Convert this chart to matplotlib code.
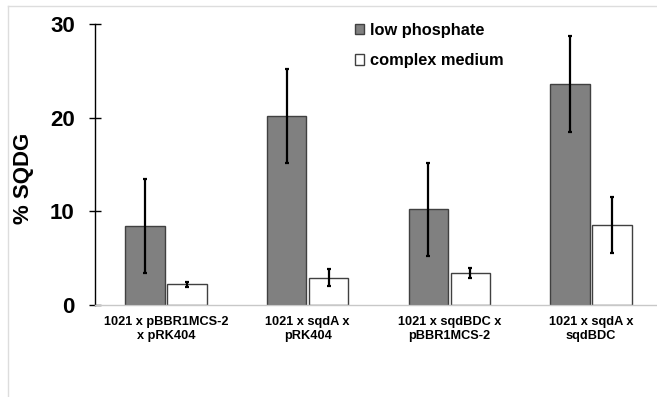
import matplotlib
matplotlib.use("Agg")
import matplotlib.pyplot as plt
import numpy as np
from matplotlib.lines import Line2D

categories = ["1021 x pBBR1MCS-2\nx pRK404", "1021 x sqdA x\npRK404",
              "1021 x sqdBDC x\npBBR1MCS-2", "1021 x sqdA x\nsqdBDC"]
low_phosphate = [8.4, 20.2, 10.2, 23.6]
low_phosphate_err = [5.0, 5.0, 5.0, 5.1]
complex_medium = [2.2, 2.9, 3.4, 8.5]
complex_medium_err = [0.25, 0.9, 0.5, 3.0]
series_names = ["low phosphate", "complex medium"]
yticks = [0, 10, 20, 30]

plt.rcParams['font.family'] = ['Liberation Sans', 'DejaVu Sans']
plt.rcParams['font.weight'] = 'bold'

fig = plt.figure(figsize=(6.57, 3.97), dpi=100)
ax = fig.add_axes([95/657, (397-305)/397, 567/657, (305-24)/397])

x = np.arange(len(categories))
w = 0.28
off = 0.148
ax.bar(x - off, low_phosphate, w, color="#808080", edgecolor="#404040", linewidth=1.0,
       label=series_names[0], zorder=2)
ax.bar(x + off, complex_medium, w, color="white", edgecolor="#404040", linewidth=1.0,
       label=series_names[1], zorder=2)
ax.errorbar(x - off, low_phosphate, yerr=low_phosphate_err, fmt="none", ecolor="black",
            elinewidth=1.6, capsize=1.5, capthick=1.6, zorder=3)
ax.errorbar(x + off, complex_medium, yerr=complex_medium_err, fmt="none", ecolor="black",
            elinewidth=1.6, capsize=1.5, capthick=1.6, zorder=3)

ax.set_xlim(-0.5, 3.5)
ax.set_ylim(0, 30)
ax.set_yticks(yticks)
ax.set_yticklabels([str(t) for t in yticks], fontsize=16, fontweight='bold')
ax.tick_params(axis='y', direction='inout', length=9, width=1.0, pad=10)
ax.set_xticks(x)
ax.set_xticklabels(categories, fontsize=9.2, fontweight='bold', linespacing=1.2)
ax.tick_params(axis='x', length=0, pad=8)
ax.set_ylabel("% SQDG", fontsize=16, fontweight='bold')
ax.yaxis.set_label_coords(-0.108, 0.452)

for s in ["top", "right"]:
    ax.spines[s].set_visible(False)
ax.spines["left"].set_color("black")
ax.spines["left"].set_linewidth(1.0)
ax.spines["bottom"].set_color("#c8c8c8")
ax.spines["bottom"].set_linewidth(1.0)

leg = fig.legend(loc="upper left", bbox_to_anchor=(348/657, 1 - 16/397), frameon=False,
                 fontsize=11.8, handlelength=0.6, handleheight=0.6, handletextpad=0.35,
                 labelspacing=0.95, borderaxespad=0)
for t in leg.get_texts():
    t.set_fontweight('bold')

# thin page border lines (screenshot frame)
fig.add_artist(Line2D([8/657, 1], [1 - 6/397, 1 - 6/397], transform=fig.transFigure,
                      color="#dddddd", linewidth=1.0))
fig.add_artist(Line2D([8/657, 8/657], [0, 1 - 6/397], transform=fig.transFigure,
                      color="#dddddd", linewidth=1.0))

fig.savefig("out.png", dpi=100)
